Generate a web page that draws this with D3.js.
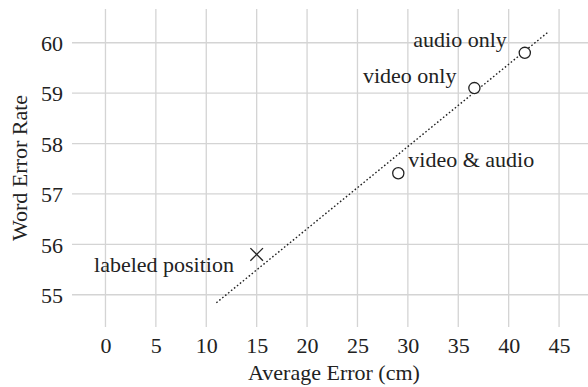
<!DOCTYPE html>
<html>
<head>
<meta charset="utf-8">
<script src="https://cdn.jsdelivr.net/npm/d3@7"></script>
<style>
  html, body { margin: 0; padding: 0; background: #fff; }
  svg { display: block; }
  svg text { font-family: "Liberation Serif", "Times New Roman", serif !important; fill: #222; }
</style>
</head>
<body>
<svg id="chart" width="588" height="387"></svg>
<script>
// ---- data ----
const pointLabels = ["audio only", "video only", "video & audio"];
const pointX = [41.6, 36.6, 29.05];
const pointY = [59.8, 59.1, 57.41];

const crossLabels = ["labeled position"];
const crossX = [15.0];
const crossY = [55.8];

const trendX = [11.0, 43.9];
const trendY = [54.84, 60.21];

const xTicks = [0, 5, 10, 15, 20, 25, 30, 35, 40, 45];
const yTicks = [55, 56, 57, 58, 59, 60];

const xTitle = "Average Error (cm)";
const yTitle = "Word Error Rate";

// ---- layout ----
const W = 588, H = 387;
const plot = { left: 72, right: 588, top: 9, bottom: 327 };
const fontSize = 22;
const FF = "'Liberation Serif', 'Times New Roman', serif";

const x = d3.scaleLinear().domain([-3.32, 47.87]).range([plot.left, plot.right]);
const y = d3.scaleLinear().domain([54.36, 60.67]).range([plot.bottom, plot.top]);

const svg = d3.select("#chart");

// grid
const grid = svg.append("g").attr("stroke", "#d4d4d4").attr("stroke-width", 1.3);
grid.selectAll("line.v").data(xTicks).join("line")
  .attr("x1", d => x(d)).attr("x2", d => x(d))
  .attr("y1", plot.top).attr("y2", plot.bottom);
grid.selectAll("line.h").data(yTicks).join("line")
  .attr("x1", plot.left).attr("x2", plot.right)
  .attr("y1", d => y(d)).attr("y2", d => y(d));

// axes (labels only, no domain/tick lines)
const xAxis = d3.axisBottom(x).tickValues(xTicks).tickFormat(d3.format("d")).tickSize(0).tickPadding(0);
const gx = svg.append("g").attr("transform", `translate(0,${plot.bottom})`).call(xAxis);
gx.attr("font-family", null).attr("font-size", null);
gx.select(".domain").remove();
gx.selectAll("text")
  .attr("y", 26).attr("dy", 0)
  .style("font-size", fontSize + "px")
  .style("font-family", FF)
  .style("fill", "#222");

const yAxis = d3.axisLeft(y).tickValues(yTicks).tickFormat(d3.format("d")).tickSize(0).tickPadding(0);
const gy = svg.append("g").attr("transform", `translate(${plot.left - 9},0)`).call(yAxis);
gy.attr("font-family", null).attr("font-size", null);
gy.select(".domain").remove();
gy.selectAll("text")
  .attr("x", 0).attr("dy", "0.35em")
  .style("font-size", fontSize + "px")
  .style("font-family", FF)
  .style("fill", "#222");

// axis titles
svg.append("text")
  .attr("x", 334).attr("y", 380)
  .attr("text-anchor", "middle")
  .style("font-size", fontSize + "px")
  .text(xTitle);

svg.append("text")
  .attr("transform", "translate(27,168) rotate(-90)")
  .attr("text-anchor", "middle")
  .style("font-size", fontSize + "px")
  .text(yTitle);

// trend line
const trend = trendX.map((d, i) => [d, trendY[i]]);
svg.append("path")
  .attr("d", d3.line().x(d => x(d[0])).y(d => y(d[1]))(trend))
  .attr("fill", "none")
  .attr("stroke", "#222")
  .attr("stroke-width", 1.4)
  .attr("stroke-dasharray", "1.6,2.2");

// circles
const pts = pointLabels.map((l, i) => ({ label: l, x: pointX[i], y: pointY[i] }));
svg.append("g").selectAll("circle").data(pts).join("circle")
  .attr("cx", d => x(d.x)).attr("cy", d => y(d.y))
  .attr("r", 5.6)
  .attr("fill", "#fff")
  .attr("stroke", "#222")
  .attr("stroke-width", 1.3);

// crosses
const crs = crossLabels.map((l, i) => ({ label: l, x: crossX[i], y: crossY[i] }));
const cs = 6.3;
const cg = svg.append("g").attr("stroke", "#222").attr("stroke-width", 1.3);
crs.forEach(d => {
  const cx = x(d.x), cy = y(d.y);
  cg.append("line").attr("x1", cx - cs).attr("y1", cy - cs).attr("x2", cx + cs).attr("y2", cy + cs);
  cg.append("line").attr("x1", cx - cs).attr("y1", cy + cs).attr("x2", cx + cs).attr("y2", cy - cs);
});

// annotation placement (relative offsets from the mark)
const place = {
  "audio only": { anchor: "end", dx: -18, dy: -6 },
  "video only": { anchor: "end", dx: -18, dy: -5.3 },
  "video & audio": { anchor: "start", dx: 10, dy: -6.6 },
  "labeled position": { anchor: "end", dx: -22.7, dy: 17.4 }
};
svg.append("g").selectAll("text").data(pts.concat(crs)).join("text")
  .attr("x", d => x(d.x) + place[d.label].dx)
  .attr("y", d => y(d.y) + place[d.label].dy)
  .attr("text-anchor", d => place[d.label].anchor)
  .style("font-size", fontSize + "px")
  .text(d => d.label);
</script>
</body>
</html>
